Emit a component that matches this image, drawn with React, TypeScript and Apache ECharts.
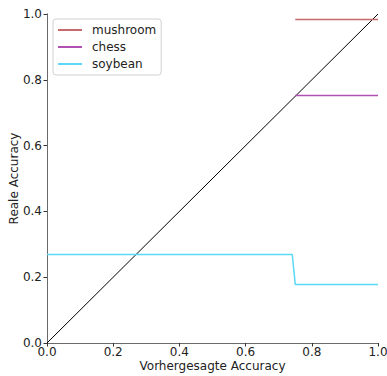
import React, { useEffect, useRef } from "react";
import * as echarts from "echarts";

const mushroomX = [0.75, 1.0];
const mushroomY = [0.983, 0.983];
const chessX = [0.75, 1.0];
const chessY = [0.752, 0.752];
const soybeanX = [0.0, 0.741, 0.75, 1.0];
const soybeanY = [0.269, 0.269, 0.178, 0.178];
const diagX = [0, 1];
const diagY = [0, 1];

const zip = (xs: number[], ys: number[]) => xs.map((x, i) => [x, ys[i]]);

export default function App() {
  const ref = useRef<HTMLDivElement>(null);
  useEffect(() => {
    const chart = echarts.init(ref.current!, null, { renderer: "svg" });
    const font = "DejaVu Sans";
    const spine = { show: true, lineStyle: { color: "#6a6a6a", width: 1 } };
    const axisCommon = {
      type: "value" as const,
      min: 0,
      max: 1,
      interval: 0.2,
      splitLine: { show: false },
      axisLine: spine,
      axisTick: { show: true, inside: false, length: 3.5, lineStyle: { color: "#333" } },
      axisLabel: {
        color: "#222",
        fontFamily: font,
        fontSize: 12,
        formatter: (v: number) => v.toFixed(1),
      },
      nameLocation: "middle" as const,
      nameMoveOverlap: false,
      nameTextStyle: { color: "#222", fontFamily: font, fontSize: 12 },
    };
    const frame = {
      type: "value" as const,
      min: 0,
      max: 1,
      interval: 0.2,
      splitLine: { show: false },
      axisLine: spine,
      axisTick: { show: false },
      axisLabel: { show: false },
    };
    chart.setOption({
      animation: false,
      grid: { left: 47, right: 9, top: 14, bottom: 33, containLabel: false, outerBoundsMode: "none" },
      xAxis: [
        { ...axisCommon, name: "Vorhergesagte Accuracy", nameGap: 17, axisLabel: { ...axisCommon.axisLabel, margin: 3 } },
        { ...frame, position: "top" },
      ],
      yAxis: [
        { ...axisCommon, name: "Reale Accuracy", nameGap: 27, axisLabel: { ...axisCommon.axisLabel, margin: 5 } },
        { ...frame, position: "right" },
      ],
      legend: {
        data: ["mushroom", "chess", "soybean"],
        orient: "vertical",
        left: 53,
        top: 19,
        padding: [5, 5, 5, 5],
        itemGap: 5,
        itemWidth: 24,
        itemHeight: 2,
        icon: "rect",
        borderColor: "#d0d0d0",
        borderWidth: 1,
        borderRadius: 3,
        backgroundColor: "#fff",
        textStyle: { fontFamily: font, fontSize: 12, color: "#222", padding: [0, 0, 0, 5] },
      },
      series: [
        {
          type: "line",
          data: zip(diagX, diagY),
          symbol: "none",
          lineStyle: { color: "#000", width: 1 },
          silent: true,
        },
        {
          name: "mushroom",
          type: "line",
          data: zip(mushroomX, mushroomY),
          symbol: "none",
          color: "#c86a6a",
          lineStyle: { color: "#c86a6a", width: 1.5 },
        },
        {
          name: "chess",
          type: "line",
          data: zip(chessX, chessY),
          symbol: "none",
          color: "#b050b0",
          lineStyle: { color: "#b050b0", width: 1.5 },
        },
        {
          name: "soybean",
          type: "line",
          data: zip(soybeanX, soybeanY),
          symbol: "none",
          color: "#5ad8f5",
          lineStyle: { color: "#5ad8f5", width: 1.5 },
        },
      ],
    });
    return () => chart.dispose();
  }, []);
  return <div ref={ref} style={{ width: 387, height: 376, position: "absolute", left: 0, top: 0 }} />;
}
